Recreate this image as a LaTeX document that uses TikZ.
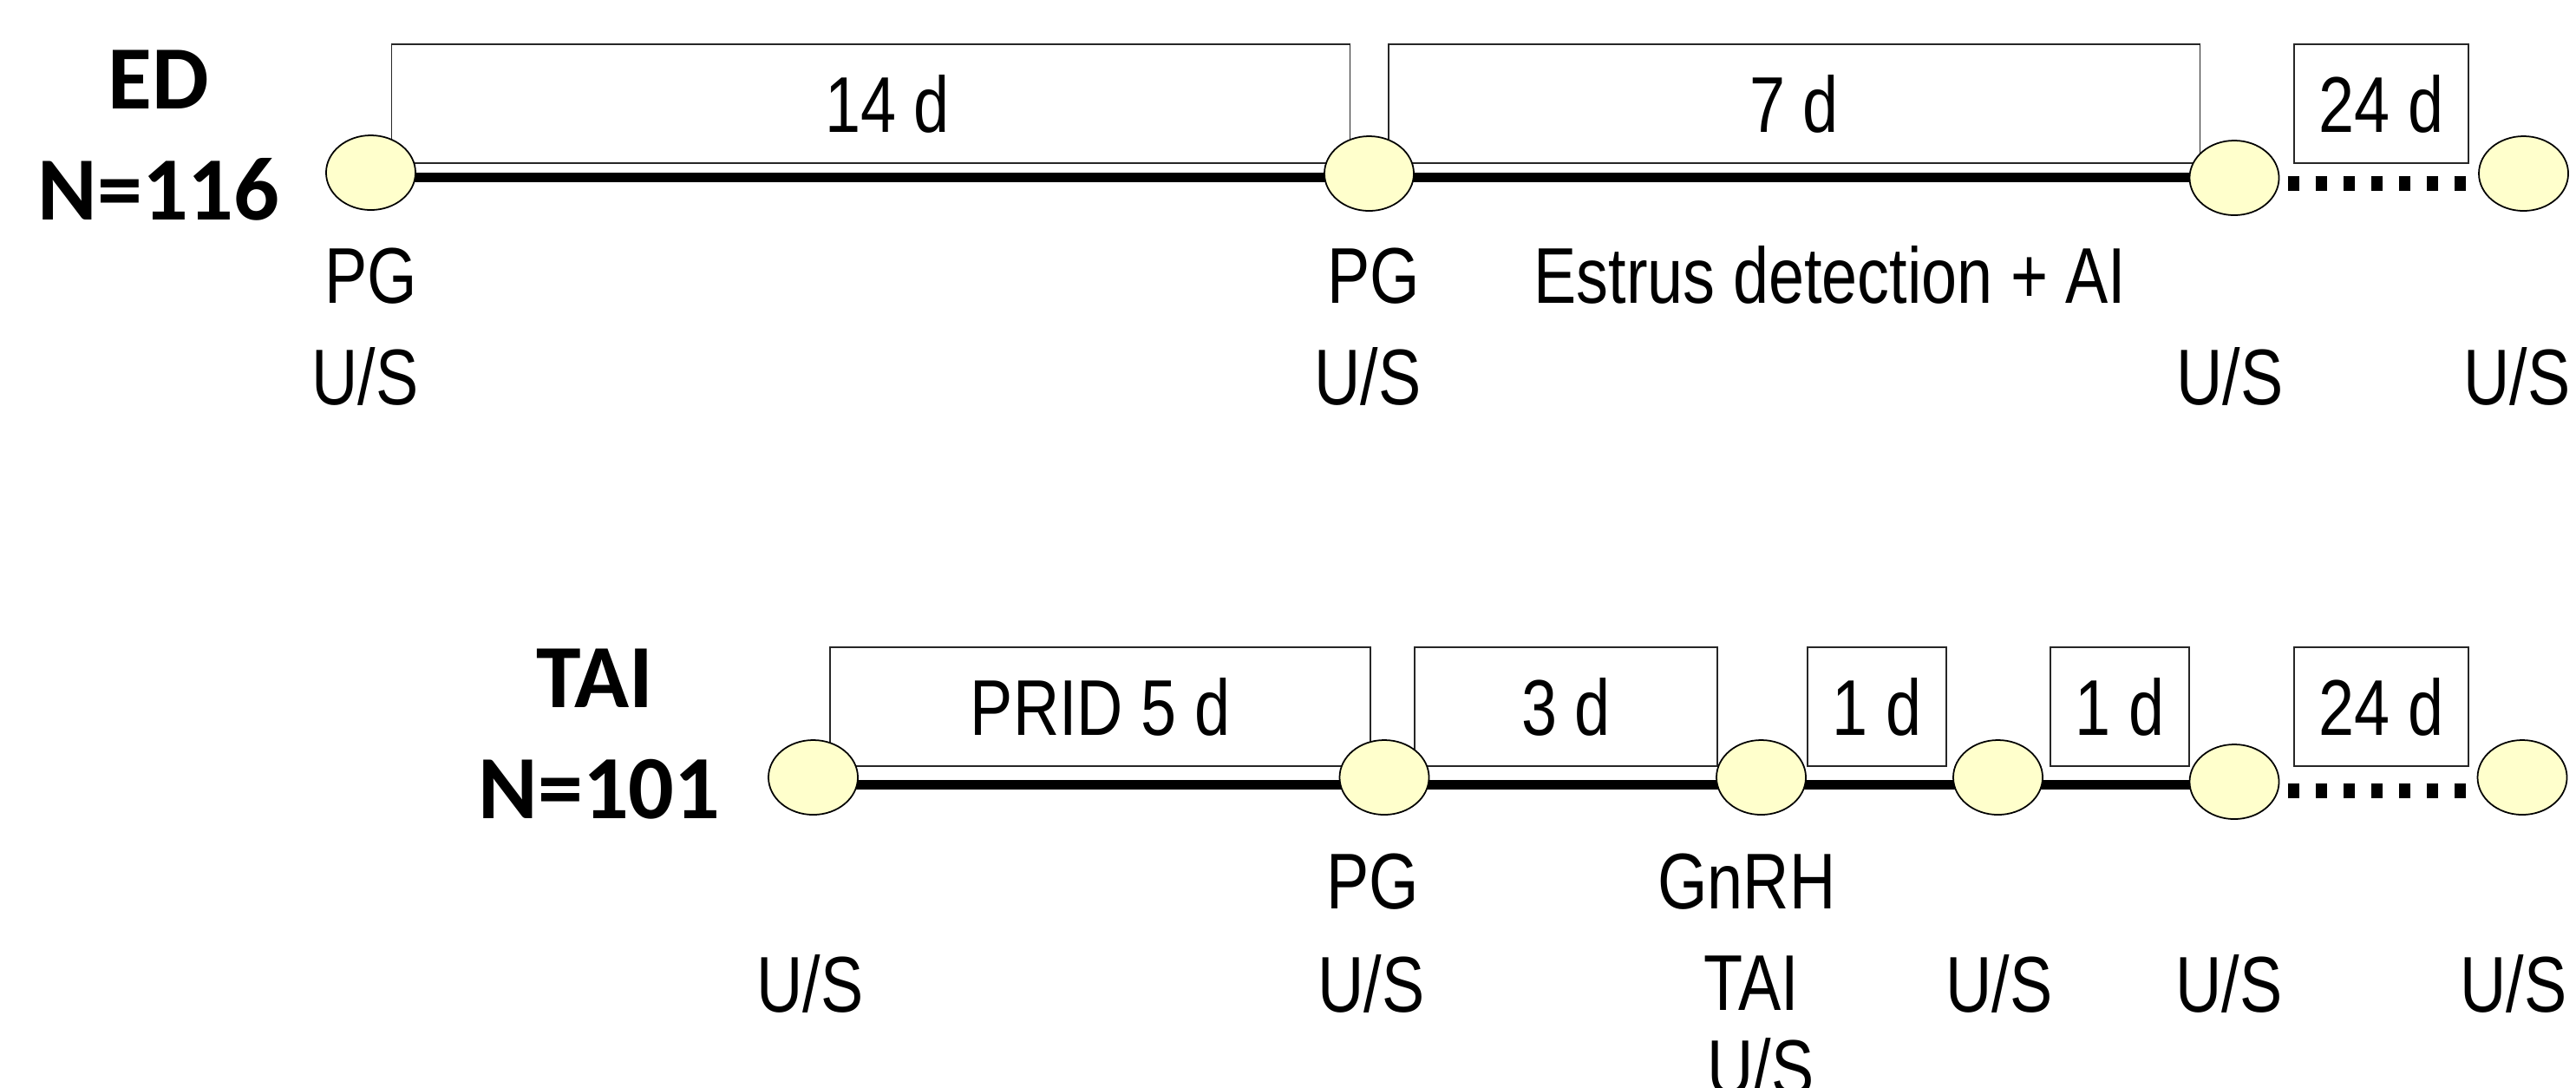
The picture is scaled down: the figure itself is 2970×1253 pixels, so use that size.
\documentclass[tikz,border=0pt]{standalone}
\usepackage{fontspec}
\setmainfont{Liberation Sans}[FakeStretch=0.81]
\newfontfamily\labfont{Carlito}
\usetikzlibrary{shapes.geometric,backgrounds}
\definecolor{dotyellow}{HTML}{FFFFCC}
\newcommand\mainsz{\fontsize{25.9pt}{31pt}\selectfont}
\newcommand\grpsz{\labfont\bfseries\fontsize{29.6pt}{35pt}\selectfont}
\begin{document}
\begin{tikzpicture}[x=0.01cm,y=-0.01cm,
  evt/.style={ellipse, draw=black, line width=0.5pt, fill=dotyellow,
    minimum width=1.03cm, minimum height=0.86cm, inner sep=0pt, outer sep=0pt},
  durbox/.style={rectangle, draw=black!85, line width=0.45pt, minimum height=1.37cm,
    inner sep=0pt, outer sep=0pt, font=\mainsz},
  lab/.style={anchor=base, inner sep=0pt, font=\mainsz},
  grp/.style={anchor=base, inner sep=0pt, font=\grpsz},
  thickline/.style={line width=0.11cm},
  dotline/.style={line width=0.17cm, dash pattern=on 0.13cm off 0.19cm, dash phase=0.22cm}
]
\useasboundingbox (0,0) rectangle (2970,1253);

% ---- event circles ----
\node[evt] (c1) at (427.5,199) {};
\node[evt] (c2) at (1578.5,200) {};
\node[evt] (c3) at (2576,205) {};
\node[evt] (c4) at (2909.5,200) {};
\node[evt] (b1) at (937.5,896) {};
\node[evt] (b2) at (1596,896) {};
\node[evt] (b3) at (2030.5,896) {};
\node[evt] (b4) at (2303.5,896) {};
\node[evt] (b5) at (2576,901) {};
\node[evt] (b6) at (2908,896) {};

\begin{scope}[on background layer]
  % duration boxes, top row
  \node[durbox, minimum width=11.04cm] (t1) at (1004,119.5) {};
  \node[durbox, minimum width=9.35cm] (t2) at (2068.5,119.5) {7 d};
  \node[durbox, minimum width=2.01cm] (t3) at (2745.5,119.5) {24 d};
  % duration boxes, bottom row
  \node[durbox, minimum width=6.23cm] (s1) at (1268.5,814.5) {PRID 5 d};
  \node[durbox, minimum width=3.49cm] (s2) at (1805.5,814.5) {3 d};
  \node[durbox, minimum width=1.60cm] (s3) at (2164,814.5) {1 d};
  \node[durbox, minimum width=1.60cm] (s4) at (2444,814.5) {1 d};
  \node[durbox, minimum width=2.01cm] (s5) at (2745.5,814.5) {24 d};
  % timelines
  \coordinate (L1) at (0,204.5);
  \coordinate (D1) at (0,211.5);
  \coordinate (L2) at (0,904.5);
  \coordinate (D2) at (0,911);
  \draw[thickline] (c1 |- L1) -- (c3 |- L1);
  \draw[dotline] (c3.east |- D1) -- (c4.west |- D1);
  \draw[thickline] (b1 |- L2) -- (b5 |- L2);
  \draw[dotline] (b5.east |- D2) -- (b6.west |- D2);
\end{scope}
\node[lab] (t1txt) at (1023,152) {14 d};

% ---- group labels ----
\node[grp] (g1) at (183,125) {ED};
\node[grp] (g2) at (183,253) {N=116};
\node[grp] (g3) at (686,815) {TAI};
\node[grp] (g4) at (691,943) {N=101};

% ---- top row labels ----
\node[lab] (p1) at (428,349) {PG};
\node[lab] (u1) at (421,466) {U/S};
\node[lab] (p2) at (1584,349) {PG};
\node[lab] (u2) at (1577,466) {U/S};
\node[lab] (ed) at (2110,349) {Estrus detection + AI};
\node[lab] (u3) at (2571,466) {U/S};
\node[lab] (u4) at (2902,466) {U/S};

% ---- bottom row labels ----
\node[lab] (v1) at (934,1166) {U/S};
\node[lab] (q2) at (1583,1047) {PG};
\node[lab] (v2) at (1581,1166) {U/S};
\node[lab] (gn) at (2014,1047) {GnRH};
\node[lab] (ta) at (2019,1164) {TAI};
\node[lab] (v3) at (2030,1262) {U/S};
\node[lab] (v4) at (2305,1166) {U/S};
\node[lab] (v5) at (2570,1166) {U/S};
\node[lab] (v6) at (2898,1166) {U/S};
\end{tikzpicture}
\end{document}
